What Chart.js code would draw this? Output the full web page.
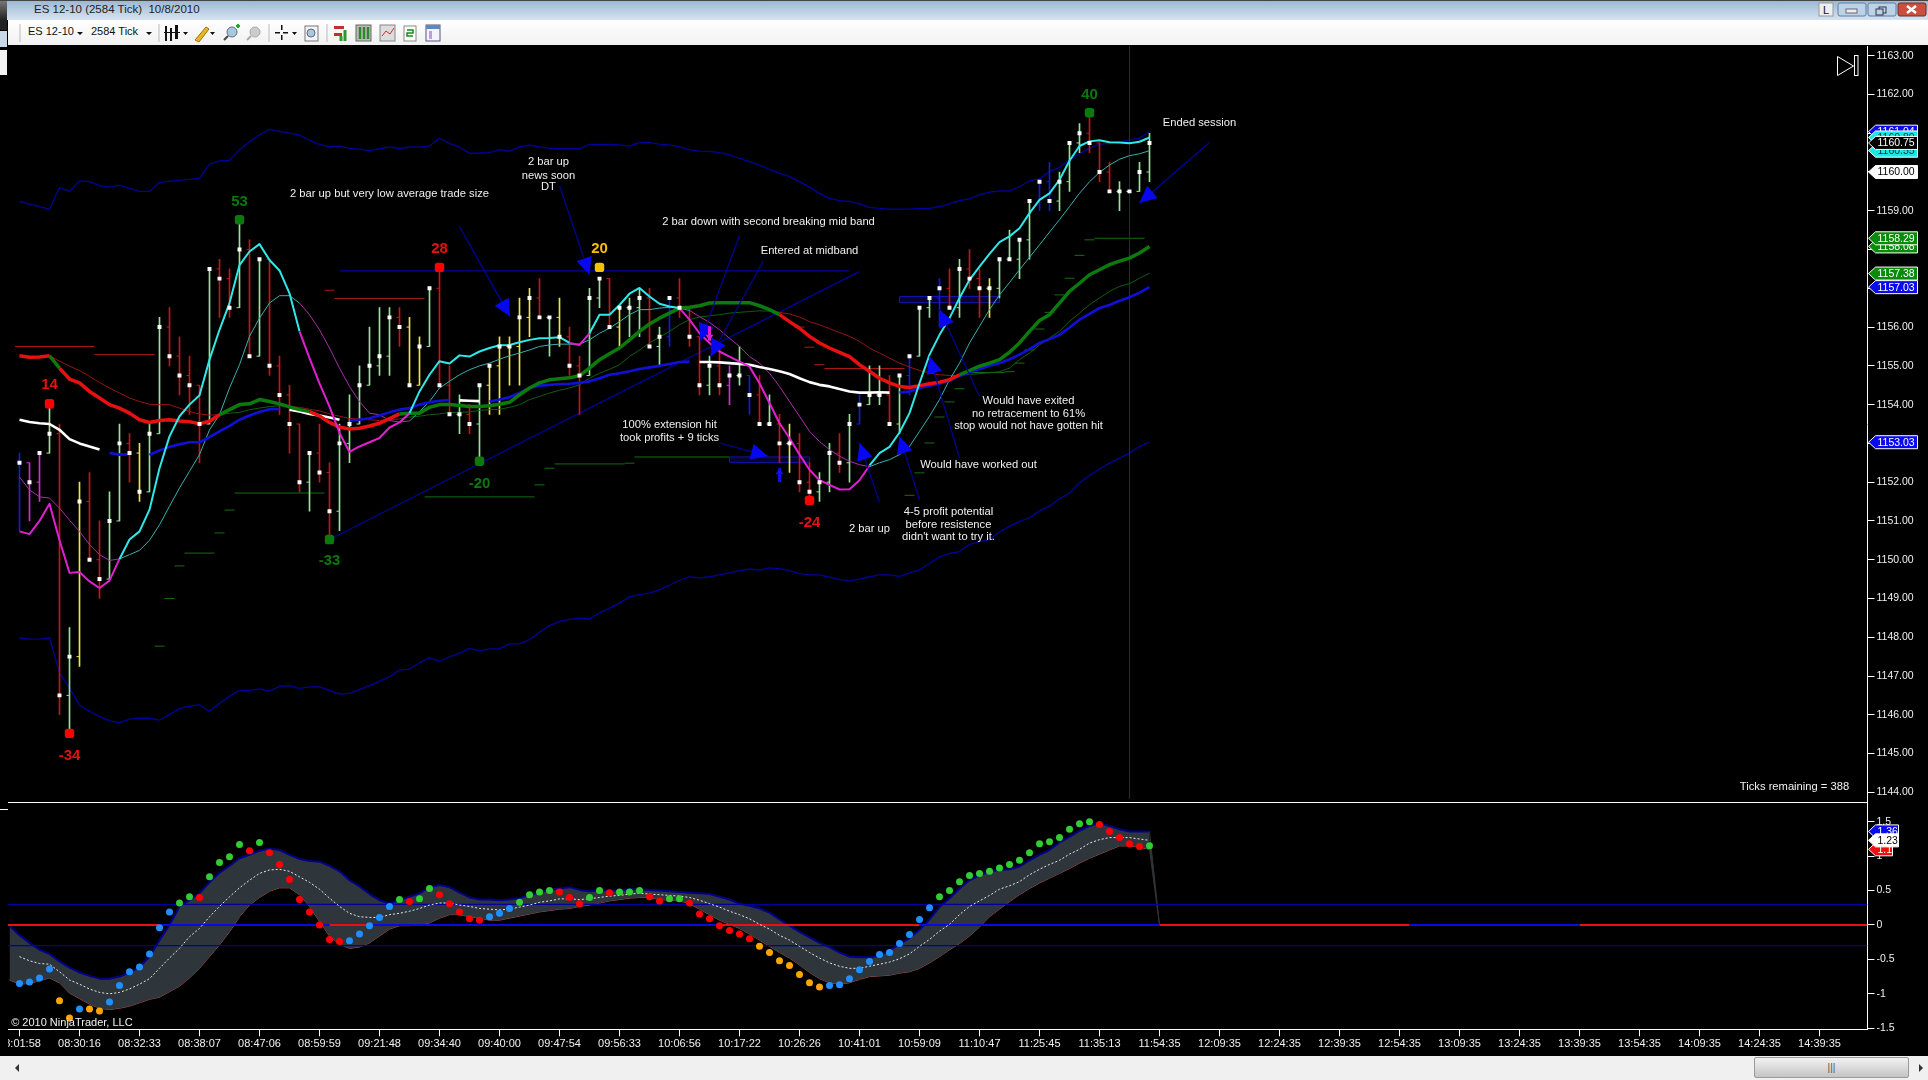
<!DOCTYPE html>
<html>
<head>
<meta charset="utf-8">
<title>ES 12-10 (2584 Tick)</title>
<script src="https://cdn.jsdelivr.net/npm/chart.js@4/dist/chart.umd.js"></script>
<style>
html, body { margin: 0; padding: 0; background: #000; overflow: hidden; }
#page { position: relative; width: 1928px; height: 1080px; overflow: hidden; font-family: "Liberation Sans", sans-serif; }
#page canvas { position: absolute; left: 8px; }
#title { position: absolute; left: 0; top: 0; width: 1928px; height: 20px; background: linear-gradient(#9db8d2, #d6e4f2); border-top: 1px solid #444; box-sizing: border-box; }
#title span { position: absolute; left: 34px; top: 2px; font-size: 11.5px; color: #222; white-space: pre; }
#tools { position: absolute; left: 8px; top: 20px; width: 1920px; height: 25px; background: linear-gradient(#ffffff, #f1f1f1); }
#tools span { position: absolute; top: 5px; font-size: 11px; color: #111; }
#icons { position: absolute; left: 0; top: 0; }
#scroll { position: absolute; left: 0; top: 1056px; width: 1928px; height: 24px; background: #f0f0f0; }
#thumb { position: absolute; left: 1754px; top: 1px; width: 155px; height: 21px; background: linear-gradient(#f2f2f2, #c4c4c4); border: 1px solid #9a9a9a; border-radius: 2px; box-sizing: border-box; text-align: center; font-size: 10px; line-height: 19px; color: #555; }
.side { position: absolute; left: 0; width: 7px; }
</style>
</head>
<body>
<div id="page">
  <div id="title"><span>ES 12-10 (2584 Tick)  10/8/2010</span></div>
  <div class="side" style="top:1px;height:19px;background:linear-gradient(#777,#222)"></div>
  <div class="side" style="top:20px;height:10px;background:#222"></div>
  <div class="side" style="top:31px;height:16px;background:#c9d9ea"></div>
  <div class="side" style="top:50px;height:25px;background:#f4f4f4"></div>
  <div class="side" style="top:809px;height:1px;background:#fff;width:8px"></div>
  <div id="tools">
    <span style="left:20px">ES 12-10</span>
    <span style="left:83px">2584 Tick</span>
  </div>
  <svg id="icons" width="1928" height="46">
    <g stroke="#bbb"><path d="M20 24V42M159 24V42M269 24V42M327 24V42"/></g>
    <g fill="#111"><path d="M77 32h6l-3 3zM146 32h6l-3 3zM183 32h5l-2.500 3zM210 32h5l-2.500 3zM292 32h5l-2.500 3z"/>
      <rect x="165" y="26" width="2" height="15"/><rect x="170" y="28" width="2" height="13"/><rect x="175" y="25" width="3" height="14"/><rect x="164" y="32" width="16" height="1"/>
      <rect x="275" y="32" width="5" height="1.500"/><rect x="283" y="32" width="5" height="1.500"/><rect x="281" y="25" width="1.500" height="5"/><rect x="281" y="35" width="1.500" height="5"/></g>
    <path d="M195 40l11-13 3 2-10 13z" fill="#e8b820" stroke="#a07010"/>
    <circle cx="232" cy="32" r="5" fill="#a8c8dc" stroke="#668"/><path d="M228 36l-4 4" stroke="#444" stroke-width="2"/><path d="M236 26h4m-2-2v4" stroke="#2a2" stroke-width="2"/>
    <circle cx="255" cy="32" r="5" fill="#ccc" stroke="#aaa"/><path d="M251 36l-4 4" stroke="#aaa" stroke-width="2"/>
    <rect x="305" y="26" width="13" height="15" fill="#f4f4f4" stroke="#777"/><circle cx="311" cy="33" r="4" fill="#a8c8dc" stroke="#668"/>
    <path d="M334 26h10v3h-10zM334 33h8v3h-8z" fill="#c03030"/><path d="M345 30v11M341 36v5" stroke="#2a9a2a" stroke-width="3"/>
    <rect x="356" y="25" width="15" height="16" fill="#bbb" stroke="#666"/><path d="M360 27v12M364 27v12M368 27v12" stroke="#2a8a2a" stroke-width="2.500"/>
    <rect x="380" y="25" width="15" height="16" fill="#ddd" stroke="#888"/><path d="M382 36l4-5 4 3 4-6" stroke="#c33" fill="none"/>
    <rect x="404" y="26" width="12" height="15" fill="#fff" stroke="#888"/><path d="M407 30h6v3h-6v3h6" stroke="#1a8a1a" fill="none" stroke-width="1.500"/>
    <rect x="426" y="25" width="14" height="16" fill="#f4f4ff" stroke="#557"/><rect x="426" y="25" width="14" height="4" fill="#5a8ac0"/><rect x="429" y="31" width="3" height="8" fill="#b8a0d8"/>
    <rect x="1819" y="3" width="14" height="13" fill="#eee" stroke="#999"/>
    <text x="1823" y="14" font-size="11" fill="#111" font-family="Liberation Sans">L</text>
    <rect x="1838" y="3" width="28" height="13" rx="2" fill="#bcd2e6" stroke="#5f7f9f"/><rect x="1846" y="9" width="11" height="4" fill="#eee" stroke="#667"/>
    <rect x="1868" y="3" width="28" height="13" rx="2" fill="#bcd2e6" stroke="#5f7f9f"/><rect x="1879" y="7" width="7" height="6" fill="none" stroke="#334"/><rect x="1876" y="9" width="7" height="6" fill="#bcd2e6" stroke="#334"/>
    <rect x="1898" y="3" width="28" height="13" rx="2" fill="#c85040" stroke="#7a2a20"/><path d="M1907 6l9 7m0-7l-9 7" stroke="#fff" stroke-width="2.500"/>
  </svg>
  <canvas id="priceChart" width="1920" height="757" style="top:46px"></canvas>
  <canvas id="oscChart" width="1920" height="253" style="top:803px"></canvas>
  <svg style="position:absolute;left:1830px;top:50px" width="34" height="30">
    <path d="M7.500 6.500V25.500L23.500 16z" fill="none" stroke="#fff"/><rect x="24.500" y="5.500" width="3.500" height="20" fill="none" stroke="#fff"/>
  </svg>
  <div id="scroll">
    <svg width="1928" height="24" style="position:absolute;left:0;top:0"><path d="M19 8v8l-4-4zM1919 8v8l4-4z" fill="#333"/></svg>
    <div id="thumb">|||</div>
  </div>
</div>
<script>
var timeLabels = ["08:01:58","08:30:16","08:32:33","08:38:07","08:47:06","08:59:59","09:21:48","09:34:40","09:40:00","09:47:54","09:56:33","10:06:56","10:17:22","10:26:26","10:41:01","10:59:09","11:10:47","11:25:45","11:35:13","11:54:35","12:09:35","12:24:35","12:39:35","12:54:35","13:09:35","13:24:35","13:39:35","13:54:35","14:09:35","14:24:35","14:39:35"];
var priceTicks = [1144,1145,1146,1147,1148,1149,1150,1151,1152,1153,1154,1155,1156,1157,1158,1159,1160,1161,1162,1163];
var oscTicks = [-1.5,-1,-0.5,0,0.5,1,1.5];

var opens = [1152.5,1152.5,1152,1152.75,1153.25,1146.5,1147.5,1151.5,1150,1149.5,
1151,1153,1152.75,1151.75,1153.25,1156,1155.25,1154.75,1154.5,1153.5,
1157.5,1157.25,1156.5,1158,1155.25,1157.75,1155,1154.25,1153.5,1152,
1152.75,1152.25,1151.25,1153,1153.5,1154.5,1155,1155.25,1156.25,1156,
1154.5,1155.5,1157,1154.5,1153.75,1153.75,1153.5,1154.5,1155,1155.5,
1155.5,1156.25,1156.75,1156.25,1156.25,1155.75,1155,1154.75,1156.75,1157.25,
1156,1156.5,1156.5,1156.75,1155.5,1155.75,1156.75,1156.5,1155.75,1154.5,
1155,1154.5,1154.75,1154.75,1154.25,1153.5,1153.5,1153,1153,1152,
1151.75,1152,1152.75,1152.5,1153.5,1154,1154.25,1154.25,1153.5,1154.75,
1155.25,1156.5,1156.75,1157,1156.5,1157.5,1157.25,1157,1157,1157.75,
1157.75,1158.25,1159.25,1159.75,1159.25,1159.75,1160.75,1161,1160.75,1160,
1159.5,1159.5,1159.5,1160];
var highs = [1152.75,1152.5,1152.75,1154,1153.5,1148.25,1152,1152.25,1151,1151.75,
1153.5,1153.25,1153,1153.5,1156.25,1156.5,1155.75,1155.25,1154.5,1157.5,
1157.75,1157.5,1158.75,1158.25,1157.75,1157.75,1155.25,1154.5,1153.5,1152.75,
1153.5,1152.5,1153.5,1154.25,1155,1156,1156.5,1156.5,1156.5,1156.25,
1155.75,1157,1157.5,1155,1154.25,1154,1154.5,1155,1155.75,1155.75,
1156.75,1157,1157.25,1156.25,1156.75,1156,1155.25,1157,1157.25,1157.25,
1156.5,1156.75,1157,1157,1156,1156.75,1157.25,1156.5,1155.75,1155.25,
1155.5,1155,1155.5,1154.75,1154.75,1154.25,1153.75,1153.5,1153.25,1152.5,
1152.25,1153,1153.25,1153.75,1154.25,1155,1155,1154.75,1154.75,1155.25,
1156.5,1156.75,1157.25,1157.5,1157.75,1158,1157.5,1157.25,1157.75,1158.5,
1158.25,1159.25,1159.75,1160.25,1160,1160.75,1161.25,1161.5,1160.75,1160.25,
1159.75,1159.5,1160.25,1161];
var lows = [1150.75,1151,1151.5,1152.75,1146,1145.5,1147.25,1150,1149,1149.5,
1151,1152,1151.5,1151.75,1153.25,1155,1154.25,1153.75,1152.5,1153.5,
1156.25,1156.25,1156.5,1155.25,1155.25,1154.75,1153.75,1152.75,1151.75,1151.25,
1152,1150.5,1150.75,1152.5,1153.5,1154.5,1154.75,1154.75,1155.5,1154.5,
1154.5,1155.5,1154.5,1153.75,1153.25,1153.25,1152.5,1153.75,1153.75,1154.5,
1154.5,1155.75,1156.25,1155.25,1155.5,1154.75,1153.75,1154.75,1156.5,1156,
1155.5,1155.75,1155.75,1155.5,1155,1155.5,1156.25,1155.5,1154.25,1154.25,
1154.25,1154,1154.5,1153.75,1153.5,1153.5,1152.5,1152.25,1151.75,1151.5,
1151.5,1151.75,1152.25,1152,1153.5,1154,1154,1153.5,1153.25,1154.25,
1155.25,1156.25,1156,1156.5,1156.25,1157,1156.25,1156.25,1156.75,1157.75,
1157.25,1157.75,1159,1159,1159,1159.5,1160.5,1160.5,1159.75,1159.5,
1159,1159.5,1159.5,1159.75];
var closes = [1152.5,1152,1152.75,1153.25,1146.5,1147.5,1151.5,1150,1149.5,1151,
1153,1152.75,1151.75,1153.25,1156,1155.25,1154.75,1154.5,1153.5,1157.5,
1157.25,1156.5,1158,1155.25,1157.75,1155,1154.25,1153.5,1152,1152.75,
1152.25,1151.25,1153,1153.5,1154.5,1155,1155.25,1156.25,1156,1154.5,
1155.5,1157,1154.5,1153.75,1153.75,1153.5,1154.5,1155,1155.5,1155.5,
1156.25,1156.75,1156.25,1156.25,1155.75,1155,1154.75,1156.75,1157.25,1156,
1156.5,1156.5,1156.75,1155.5,1155.75,1156.75,1156.5,1155.75,1154.5,1155,
1154.5,1154.75,1154.75,1154.25,1153.5,1153.5,1153,1153,1152,1151.75,
1152,1152.75,1152.5,1153.5,1154,1154.25,1154.25,1153.5,1154.75,1155.25,
1156.5,1156.75,1157,1156.5,1157.5,1157.25,1157,1157,1157.75,1157.75,
1158.25,1159.25,1159.75,1159.25,1159.75,1160.75,1161,1160.75,1160,1159.5,
1159.5,1159.5,1160,1160.75];
var barKinds = "bmmgrgyrrg" + "gryggrrrrg" + "rrgrgrrrrg" + "rrggggggry" + "ygrrgrgyyy" +
    "yyrgyrrggr" + "yggrgbrrrg" + "rmgbrgryrr" + "ggrgbggrgb" + "ggbrgrrygg" + "ggbbgggrrr" + "gwgg";

var fastLine = [1150.73,1150.66,1151,1151.44,1150.5,1149.66,1149.68,1149.44,1149.27,1149.46,
1150.02,1150.52,1150.73,1151.29,1152.36,1153.18,1153.7,1154,1154.24,1155.16,
1155.93,1156.62,1157.6,1157.95,1158.14,1157.73,1157.46,1156.87,1155.89,1155.2,
1154.55,1153.95,1153.27,1152.78,1152.92,1153.03,1153.14,1153.41,1153.54,1153.78,
1154.34,1154.77,1155.12,1155.06,1155.27,1155.24,1155.37,1155.46,1155.53,1155.54,
1155.61,1155.67,1155.71,1155.72,1155.74,1155.59,1155.54,1155.84,1156.32,1156.32,
1156.57,1156.86,1157.01,1156.79,1156.6,1156.53,1156.49,1156.19,1155.84,1155.59,
1155.37,1155.24,1155.11,1154.98,1154.55,1154.04,1153.52,1153.14,1152.71,1152.32,
1152.05,1151.93,1151.81,1151.82,1152.05,1152.43,1152.75,1152.91,1153.28,1153.78,
1154.55,1155.29,1155.8,1156.23,1156.75,1157.22,1157.56,1157.89,1158.19,1158.34,
1158.55,1158.94,1159.28,1159.45,1159.8,1160.29,1160.67,1160.79,1160.82,1160.77,
1160.76,1160.74,1160.78,1160.89];
var slowLine = [1152.13,1151.8,1151.62,1151.59,1151.33,1151.02,1150.73,1150.39,1150.13,1149.98,
1150.02,1150.13,1150.24,1150.5,1150.9,1151.38,1151.85,1152.28,1152.71,1153.35,
1153.74,1154.43,1155.03,1155.76,1156.23,1156.62,1156.81,1156.81,1156.62,1156.32,
1155.93,1155.46,1154.94,1154.47,1154.08,1153.78,1153.74,1153.59,1153.55,1153.58,
1153.82,1154.08,1154.43,1154.6,1154.77,1154.9,1155,1155.07,1155.17,1155.26,
1155.33,1155.41,1155.5,1155.54,1155.56,1155.56,1155.56,1155.67,1155.84,1155.97,
1156.14,1156.32,1156.45,1156.45,1156.49,1156.51,1156.49,1156.43,1156.27,1156.12,
1155.93,1155.71,1155.5,1155.24,1155.07,1154.81,1154.47,1154.08,1153.7,1153.31,
1153.05,1152.84,1152.67,1152.54,1152.45,1152.4,1152.5,1152.58,1152.71,1152.92,
1153.31,1153.7,1154.13,1154.64,1155.07,1155.59,1156.02,1156.45,1156.83,1157.15,
1157.48,1157.8,1158.12,1158.45,1158.77,1159.11,1159.45,1159.75,1159.99,1160.18,
1160.33,1160.42,1160.47,1160.55];
var upperBand = [1159.24,1159.17,1159.11,1159.04,1159.6,1159.5,1159.77,1159.75,1159.65,1159.61,
1159.66,1159.58,1159.5,1159.5,1159.73,1159.76,1159.79,1159.81,1159.84,1160.2,
1160.29,1160.3,1160.57,1160.78,1160.96,1161.1,1161.05,1161,1160.95,1160.82,
1160.71,1160.65,1160.67,1160.61,1160.59,1160.55,1160.6,1160.65,1160.6,1160.65,
1160.64,1160.67,1160.87,1160.74,1160.64,1160.48,1160.49,1160.5,1160.58,1160.53,
1160.65,1160.69,1160.65,1160.61,1160.6,1160.6,1160.6,1160.71,1160.71,1160.71,
1160.7,1160.67,1160.76,1160.76,1160.72,1160.7,1160.65,1160.57,1160.54,1160.53,
1160.5,1160.44,1160.35,1160.27,1160.18,1160.07,1159.97,1159.88,1159.75,1159.61,
1159.45,1159.32,1159.26,1159.24,1159.18,1159.09,1159.06,1159.04,1159.04,1159.04,
1159.06,1159.06,1159.11,1159.18,1159.26,1159.31,1159.41,1159.48,1159.51,1159.51,
1159.62,1159.77,1159.82,1160.01,1160.12,1160.31,1160.47,1160.61,1160.72,1160.74,
1160.77,1160.83,1160.87,1161.04];
var lowerBand = [1147.98,1147.95,1147.95,1147.98,1147.08,1146.69,1146.25,1146.09,1145.95,1145.85,
1145.79,1145.89,1145.91,1145.91,1145.86,1146.01,1146.16,1146.22,1146.26,1146.09,
1146.29,1146.48,1146.63,1146.63,1146.67,1146.61,1146.73,1146.75,1146.68,1146.72,
1146.72,1146.63,1146.53,1146.55,1146.65,1146.75,1146.86,1146.98,1147.15,1147.18,
1147.34,1147.47,1147.38,1147.49,1147.59,1147.71,1147.65,1147.7,1147.7,1147.83,
1147.83,1147.94,1148.13,1148.3,1148.41,1148.46,1148.49,1148.47,1148.63,1148.75,
1148.88,1149.04,1149.1,1149.14,1149.23,1149.34,1149.47,1149.56,1149.53,1149.56,
1149.61,1149.66,1149.72,1149.76,1149.73,1149.79,1149.77,1149.72,1149.64,1149.61,
1149.61,1149.55,1149.49,1149.45,1149.5,1149.56,1149.61,1149.61,1149.57,1149.66,
1149.74,1149.9,1150.07,1150.16,1150.21,1150.39,1150.47,1150.52,1150.72,1150.86,
1150.99,1151.08,1151.26,1151.38,1151.57,1151.72,1151.98,1152.17,1152.34,1152.49,
1152.62,1152.75,1152.92,1153.03];
var midThick = [1155.26,1155.22,1155.23,1155.26,1154.94,1154.66,1154.56,1154.34,1154.17,1154,
1153.91,1153.78,1153.61,1153.54,1153.59,1153.61,1153.58,1153.56,1153.51,1153.57,
1153.74,1153.87,1154,1154.02,1154.13,1154.08,1154.02,1153.94,1153.87,1153.82,
1153.71,1153.54,1153.42,1153.37,1153.39,1153.45,1153.52,1153.64,1153.76,1153.78,
1153.78,1153.93,1154,1154,1153.98,1153.95,1153.95,1153.97,1154.01,1154.06,
1154.25,1154.43,1154.56,1154.64,1154.67,1154.69,1154.75,1154.94,1155.16,1155.31,
1155.46,1155.67,1155.89,1156.08,1156.23,1156.36,1156.49,1156.51,1156.55,1156.62,
1156.63,1156.63,1156.63,1156.63,1156.55,1156.45,1156.32,1156.14,1155.97,1155.76,
1155.59,1155.46,1155.35,1155.24,1155.03,1154.86,1154.68,1154.56,1154.47,1154.44,
1154.49,1154.54,1154.58,1154.64,1154.77,1154.88,1154.99,1155.07,1155.16,1155.35,
1155.59,1155.89,1156.17,1156.32,1156.62,1156.92,1157.13,1157.35,1157.48,1157.61,
1157.7,1157.78,1157.91,1158.08];
var midThin = [null,null,null,1155.26,1155.12,1154.99,1154.88,1154.73,1154.57,1154.43,
1154.3,1154.17,1154.08,1154.01,1154,1154,1153.91,1153.82,1153.76,1153.73,
1153.74,1153.78,1153.8,1153.87,1153.91,1153.95,1153.97,1153.95,1153.93,1153.88,
1153.84,1153.76,1153.7,1153.64,1153.63,1153.61,1153.59,1153.61,1153.63,1153.68,
1153.7,1153.74,1153.76,1153.8,1153.8,1153.81,1153.85,1153.87,1153.88,1153.93,
1154,1154.13,1154.21,1154.3,1154.37,1154.43,1154.51,1154.68,1154.81,1154.91,
1155.03,1155.24,1155.41,1155.59,1155.74,1155.89,1156.06,1156.19,1156.26,1156.29,
1156.32,1156.36,1156.38,1156.4,1156.42,1156.41,1156.38,1156.34,1156.26,1156.14,
1156.06,1155.96,1155.86,1155.76,1155.63,1155.46,1155.33,1155.2,1155.07,1154.97,
1154.88,1154.81,1154.77,1154.75,1154.75,1154.78,1154.8,1154.82,1154.85,1154.94,
1155.16,1155.33,1155.54,1155.72,1155.89,1156.15,1156.36,1156.58,1156.75,1156.92,
1157.05,1157.12,1157.26,1157.39];
var blueLine = [1153.61,1153.55,1153.52,1153.5,1153.35,1153.11,1153,1152.92,1152.84,1152.75,
1152.71,1152.72,null,1152.7,1152.82,1152.91,1152.98,1153.03,1153.03,1153.16,
1153.31,1153.45,1153.61,1153.72,1153.81,1153.88,1153.89,1153.87,1153.82,1153.76,
1153.72,1153.67,1153.61,1153.59,1153.61,1153.65,1153.72,1153.8,1153.87,1153.91,
1154,1154.06,1154.1,1154.12,1154.11,1154.1,1154.09,1154.08,1154.13,1154.19,
1154.3,1154.43,1154.49,1154.51,1154.53,1154.54,1154.56,1154.6,1154.68,1154.77,
1154.81,1154.86,1154.92,1154.96,1155,1155.05,1155.1,1155.11,1155.1,1155.1,
1155.09,1155.07,1155.05,1155.03,1154.97,1154.92,1154.86,1154.79,1154.68,1154.58,
1154.51,1154.47,1154.4,1154.34,1154.31,1154.31,1154.32,1154.31,1154.31,1154.34,
1154.43,1154.49,1154.54,1154.62,1154.74,1154.84,1154.92,1155,1155.07,1155.17,
1155.29,1155.43,1155.59,1155.69,1155.8,1155.99,1156.19,1156.34,1156.49,1156.57,
1156.68,1156.77,1156.89,1157.03];

// bar ranges where a line changes colour
var fastDownRuns = [[0,10],[28,39],[55,57],[66,85]];
var slowDownRuns = [[0,10],[28,39],[67,85]];
var thickRedRuns = [[0,3],[4,20],[29,38],[76,94]];
var thinRedRuns = [[3,20],[27,38],[76,94]];
var whiteRuns = [[0,9],[27,33],[44,47],[68,88]];

// from bar, to bar, price
var redSteps = [[-0.45,7.5,1155.5],[7.5,13.5,1155.29],[30.5,31.5,1156.95],[31.5,40.5,1156.74],[77.5,78.5,1156],[78.5,79.5,1155.48],[79.5,80.5,1155.03],[80.5,88.5,1154.93]];
var greenSteps = [[13.5,14.5,1147.77],[14.5,15.5,1149],[15.5,16.5,1149.84],[16.5,19.5,1150.17],[19.5,20.5,1150.69],[20.5,21.5,1151.28],[21.5,30.5,1151.72],
[40.5,51.5,1151.62],[51.5,52.5,1151.93],[52.5,53.5,1152.36],[53.5,60.5,1152.47],[60.5,61.5,1152.49],[61.5,71,1152.65],
[88.5,89.5,1151.66],[89.5,90.5,1152.24],[90.5,91.5,1153.01],[91.5,92.5,1153.68],[92.5,93.5,1154.07],[93.5,94.5,1154.41],[94.5,98.5,1154.83],[98.5,99.5,1154.85],
[99.5,100.5,1155.07],[100.5,101.5,1155.41],[101.5,102.5,1155.95],[102.5,103.5,1156.38],[103.5,104.5,1156.83],[104.5,105.5,1157.26],[105.5,106.5,1157.85],[106.5,107.5,1158.25],[107.5,112.5,1158.29]];

// swing points
var swingBars = [5,3,22,42,58,46,31,79,107];
var swingPrices = [1145.52,1154.02,1158.77,1157.54,1157.54,1152.54,1150.52,1151.53,1161.53];
var swingLabelPrices = [1144.94,1154.5,1159.24,1158.01,1158.01,1151.96,1149.96,1150.96,1161.99];
var swingTexts = ["-34","14","53","28","20","-20","-33","-24","40"];
var swingKinds = ["r","r","g","r","y","g","g","r","g"];

// drawing tools on the chart, bar/price pairs
var guideLines = [[32,1157.45,83,1157.45],[31,1150.52,84,1157.43]];
var boxes = [[88,1156.79,98,1156.63],[71,1152.65,79,1152.51]];
var arrows = [[44,1158.59,49.06,1156.27],[54,1159.65,57,1157.35],[72,1158.36,68.1,1155.65],[74.4,1157.71,69.1,1155.24],[70,1153.01,74.85,1152.67],
[86,1151.48,84,1153.01],[90,1151.55,88,1153.18],[94,1152.62,91,1155.24],[96,1154.21,92,1156.45],[119,1160.76,112,1159.2]];
var entryUp = [76,1152,76,1152.36];
var entryDown = [69,1156.02,69,1155.65];

var noteBars = [37,52.9,52.9,52.9,74.9,79,65,65,100.9,100.9,100.9,95.9,85,92.9,92.9,92.9,118,177.5];
var notePrices = [1159.43,1160.26,1159.91,1159.62,1158.71,1157.97,1153.47,1153.14,1154.1,1153.76,1153.45,1152.45,1150.79,1151.23,1150.9,1150.58,1161.26,1144.15];
var noteTexts = ["2 bar up but very low average trade size","2 bar up","news soon","DT","2 bar down with second breaking mid band","Entered at midband",
"100% extension hit","took profits + 9 ticks","Would have exited","no retracement to 61%","stop would not have gotten hit","Would have worked out","2 bar up",
"4-5 profit potential","before resistence","didn't want to try it.","Ended session","Ticks remaining = 388"];

var priceTagValues = [1161.04,1160.89,1160.55,1160.75,1160.00,1158.08,1158.29,1157.38,1157.03,1153.03];
var priceTagKinds = ["b","c","c","k","w","g","g","g","b","b"];
var oscTagValues = [1.36,1.1,1.23];
var oscTagKinds = ["b","r","w"];

// oscillator, first value sits one bar before the first price bar, last one bar after the last
var oscUpper = [-0.01,-0.15,-0.26,-0.36,-0.42,-0.53,-0.62,-0.69,-0.74,-0.78,-0.78,
-0.75,-0.69,-0.61,-0.46,-0.22,0,0.27,0.36,0.46,0.62,
0.76,0.86,0.97,1.02,1.08,1.11,1.09,1.02,0.96,0.93,
0.92,0.86,0.78,0.65,0.56,0.45,0.36,0.31,0.36,0.41,
0.46,0.55,0.58,0.55,0.47,0.40,0.37,0.37,0.36,0.37,
0.39,0.44,0.47,0.51,0.53,0.55,0.51,0.49,0.50,0.50,
0.50,0.52,0.52,0.51,0.50,0.49,0.48,0.47,0.46,0.45,
0.41,0.37,0.31,0.28,0.24,0.18,0.08,-0.01,-0.10,-0.18,
-0.26,-0.32,-0.40,-0.46,-0.47,-0.47,-0.45,-0.37,-0.28,-0.19,
-0.07,0.08,0.26,0.39,0.53,0.65,0.72,0.78,0.80,0.81,
0.85,0.94,1.02,1.09,1.20,1.28,1.37,1.44,1.48,1.44,
1.39,1.36,1.36,1.36,0];
var oscLower = [-0.80,-0.86,-0.85,-0.81,-0.77,-0.84,-0.99,-1.07,-1.15,-1.21,-1.23,
-1.21,-1.18,-1.13,-1.08,-1.05,-0.97,-0.89,-0.77,-0.63,-0.46,
-0.29,-0.10,0.12,0.29,0.40,0.49,0.54,0.54,0.44,0.27,
0.05,-0.16,-0.28,-0.34,-0.32,-0.26,-0.16,-0.06,-0.01,-0.01,
0,0.03,0.10,0.15,0.15,0.12,0.10,0.07,0.07,0.10,
0.13,0.16,0.19,0.21,0.23,0.24,0.27,0.29,0.32,0.35,
0.37,0.39,0.40,0.40,0.37,0.36,0.35,0.31,0.23,0.15,
0.07,0.01,-0.05,-0.13,-0.22,-0.31,-0.40,-0.48,-0.58,-0.69,
-0.78,-0.84,-0.86,-0.84,-0.79,-0.75,-0.74,-0.73,-0.70,-0.68,
-0.63,-0.55,-0.46,-0.36,-0.27,-0.16,-0.03,0.12,0.23,0.34,
0.44,0.53,0.61,0.68,0.75,0.82,0.90,0.97,1.03,1.09,
1.15,1.15,1.13,1.10,0];
var oscMid = [-0.46,-0.52,-0.56,-0.57,-0.68,-0.80,-0.86,-0.93,-0.98,-1.00,
-0.98,-0.93,-0.86,-0.78,-0.63,-0.48,-0.34,-0.17,-0.05,0.12,
0.27,0.41,0.54,0.65,0.75,0.80,0.81,0.78,0.70,0.62,
0.52,0.39,0.27,0.17,0.12,0.11,0.11,0.15,0.17,0.20,
0.24,0.29,0.32,0.32,0.29,0.27,0.24,0.23,0.22,0.23,
0.26,0.29,0.33,0.35,0.38,0.38,0.37,0.38,0.40,0.42,
0.43,0.45,0.46,0.45,0.44,0.43,0.42,0.40,0.36,0.31,
0.26,0.20,0.15,0.09,0.01,-0.06,-0.15,-0.22,-0.31,-0.40,
-0.48,-0.55,-0.60,-0.63,-0.63,-0.60,-0.57,-0.54,-0.49,-0.42,
-0.31,-0.21,-0.09,0.01,0.15,0.27,0.35,0.43,0.52,0.57,
0.63,0.73,0.81,0.88,0.94,1.03,1.10,1.19,1.24,1.27,
1.27,1.27,1.25,1.23];
var oscDots = [-0.85,-0.83,-0.77,-0.64,-1.10,-1.35,-1.22,-1.22,-1.25,-1.12,
-0.88,-0.68,-0.61,-0.42,-0.04,0.19,0.32,0.41,0.40,0.70,
0.91,0.99,1.17,1.08,1.20,1.05,0.88,0.66,0.37,0.19,
0,-0.21,-0.24,-0.23,-0.13,-0.01,0.11,0.27,0.37,0.34,
0.38,0.53,0.44,0.31,0.19,0.09,0.07,0.12,0.17,0.24,
0.33,0.44,0.48,0.50,0.48,0.40,0.31,0.40,0.50,0.47,
0.48,0.48,0.50,0.41,0.35,0.38,0.38,0.32,0.16,0.09,
-0.01,-0.08,-0.13,-0.20,-0.31,-0.40,-0.52,-0.59,-0.72,-0.84,
-0.90,-0.88,-0.87,-0.78,-0.65,-0.53,-0.43,-0.40,-0.27,-0.14,
0.08,0.25,0.41,0.50,0.63,0.72,0.75,0.78,0.83,0.88,
0.94,1.05,1.18,1.21,1.27,1.39,1.47,1.50,1.46,1.36,
1.27,1.18,1.14,1.15];
var oscDotKinds = "bbbbooboob" + "bbbbbbggrg" + "gggrgrrrrr" + "rrrbbbbbgr" + "ggrrrrrbbb" +
    "ggggrrrggr" + "gggrrggrrr" + "rrrroooooo" + "obbbbbbbbb" + "bbgggggggg" + "ggggggggrr" + "rrrg";
var zeroRuns = [[-1.15,14,"r"],[14,31,"b"],[31,35,"r"],[35,70,"b"],[70,90,"r"],[90,114,"b"],[114,139,"r"],[139,156,"b"],[156,184.8,"r"]];
var oscLevels = [0.3,-0.3];

var firstBar = -1.15, lastBar = 184.8;
var barColors = {g:"#9be09b", r:"#c81414", y:"#e8e84a", b:"#1a1ad2", m:"#d030d0", w:"#ffffff"};
var swingColors = {r:"#e81010", g:"#0a7a0a", y:"#f5c000"};
var tagStyles = {b:["#0a0aee","#fff"], c:["#18e8e8","#033"], k:["#000","#fff"], w:["#fff","#000"], g:["#0a8a0a","#fff"], r:["#ee1010","#fff"]};
var dotColors = {b:"#1e90ff", o:"#ffa500", g:"#32cd32", r:"#ff0000"};
var NAVY = "#00009c", FONT = '"Liberation Sans", sans-serif';

function points(values, start) {
    return values.map(function(v, n) { return {x: n + (start || 0), y: v}; });
}
function inRuns(runs, i) {
    return runs.some(function(r) { return i >= r[0] && i < r[1]; });
}
function stepPoints(steps) {
    var out = [];
    steps.forEach(function(s) {
        out.push({x: s[0], y: s[2]}, {x: s[1], y: s[2]}, {x: s[1], y: null});
    });
    return out;
}
function lineSet(data, color, width, order, extra) {
    return Object.assign({type: 'line', data: data, borderColor: color, borderWidth: width, pointRadius: 0,
        tension: 0, order: order, fill: false, borderJoinStyle: 'round'}, extra || {});
}
function runColor(runs, on, off) {
    return {borderColor: function(ctx) { return inRuns(runs, ctx.p0DataIndex) ? on : off; }};
}
function tagShape(ctx, x, y, w, kind, text) {
    var st = tagStyles[kind];
    ctx.beginPath();
    ctx.moveTo(x, y);
    ctx.lineTo(x + 7, y - 6.5);
    ctx.lineTo(x + w, y - 6.5);
    ctx.lineTo(x + w, y + 6.5);
    ctx.lineTo(x + 7, y + 6.5);
    ctx.closePath();
    ctx.fillStyle = st[0];
    ctx.fill();
    ctx.strokeStyle = '#fff';
    ctx.lineWidth = 1;
    ctx.stroke();
    ctx.fillStyle = st[1];
    ctx.font = '10.5px ' + FONT;
    ctx.textAlign = 'left';
    ctx.textBaseline = 'middle';
    ctx.fillText(text, x + 9, y + 0.5);
}
function drawArrow(ctx, xs, ys, a, shaftColor, shaftWidth, headLen, headHalf) {
    var x0 = xs.getPixelForValue(a[0]), y0 = ys.getPixelForValue(a[1]);
    var x1 = xs.getPixelForValue(a[2]), y1 = ys.getPixelForValue(a[3]);
    var ang = Math.atan2(y1 - y0, x1 - x0);
    ctx.strokeStyle = shaftColor;
    ctx.lineWidth = shaftWidth;
    ctx.beginPath();
    ctx.moveTo(x0, y0);
    ctx.lineTo(x1, y1);
    ctx.stroke();
    ctx.fillStyle = '#0808f0';
    if (shaftWidth > 2) ctx.fillStyle = shaftColor;
    ctx.beginPath();
    ctx.moveTo(x1, y1);
    ctx.lineTo(x1 - headLen * Math.cos(ang) - headHalf * Math.sin(ang), y1 - headLen * Math.sin(ang) + headHalf * Math.cos(ang));
    ctx.lineTo(x1 - headLen * Math.cos(ang) + headHalf * Math.sin(ang), y1 - headLen * Math.sin(ang) - headHalf * Math.cos(ang));
    ctx.closePath();
    ctx.fill();
}

var priceOverlay = {
    id: 'priceOverlay',
    afterDraw: function(chart) {
        var ctx = chart.ctx, xs = chart.scales.x, ys = chart.scales.y;
        ctx.save();
        arrows.forEach(function(a) { drawArrow(ctx, xs, ys, a, NAVY, 1.2, 17, 8); });
        drawArrow(ctx, xs, ys, entryUp, '#1010ee', 3, 6, 4);
        drawArrow(ctx, xs, ys, entryDown, '#e020d0', 3, 6, 4);
        ctx.textAlign = 'center';
        ctx.textBaseline = 'middle';
        ctx.font = '11.2px ' + FONT;
        ctx.fillStyle = '#f0f0f0';
        noteTexts.forEach(function(t, n) {
            ctx.fillText(t, xs.getPixelForValue(noteBars[n]), ys.getPixelForValue(notePrices[n]));
        });
        ctx.font = 'bold 15px ' + FONT;
        swingTexts.forEach(function(t, n) {
            ctx.fillStyle = swingColors[swingKinds[n]];
            ctx.fillText(t, xs.getPixelForValue(swingBars[n]), ys.getPixelForValue(swingLabelPrices[n]));
        });
        priceTagValues.forEach(function(v, n) {
            tagShape(ctx, chart.chartArea.right + 1, ys.getPixelForValue(v), 49, priceTagKinds[n], v.toFixed(2));
        });
        ctx.restore();
    }
};
var oscOverlay = {
    id: 'oscOverlay',
    afterDraw: function(chart) {
        var ctx = chart.ctx, xs = chart.scales.x, ys = chart.scales.y;
        ctx.save();
        ctx.font = '11px ' + FONT;
        ctx.fillStyle = '#f0f0f0';
        ctx.textAlign = 'center';
        ctx.textBaseline = 'middle';
        ctx.fillText('\u00a9 2010 NinjaTrader, LLC', xs.getPixelForValue(5.24), ys.getPixelForValue(-1.42));
        oscTagValues.forEach(function(v, n) {
            tagShape(ctx, chart.chartArea.right + 1, ys.getPixelForValue(v), n == 1 ? 24 : 30, oscTagKinds[n], String(v));
        });
        ctx.restore();
    }
};

function xScale(showLabels, height) {
    return {
        type: 'linear', min: firstBar, max: lastBar, offset: false,
        afterBuildTicks: function(scale) {
            scale.ticks = timeLabels.map(function(t, n) { return {value: n * 6}; });
        },
        afterFit: function(scale) {
            scale.paddingLeft = 0;
            scale.paddingRight = 0;
            scale.height = height;
        },
        border: {display: true, color: '#fff', width: 1},
        grid: {display: showLabels, drawOnChartArea: false, offset: false, tickLength: 7, tickColor: '#fff', color: '#fff'},
        ticks: {
            display: showLabels, autoSkip: false, maxRotation: 0, minRotation: 0, padding: 1,
            color: '#f0f0f0', font: {family: FONT, size: 11},
            callback: function(v) { return timeLabels[v / 6]; }
        }
    };
}
function yScale(min, max, tickValues, format) {
    return {
        type: 'linear', position: 'right', min: min, max: max,
        afterBuildTicks: function(scale) {
            scale.ticks = tickValues.map(function(v) { return {value: v}; });
        },
        afterFit: function(scale) {
            scale.paddingTop = 0;
            scale.paddingBottom = 0;
            scale.width = 60.5;
        },
        border: {display: true, color: '#fff', width: 1},
        grid: {drawOnChartArea: false, tickLength: 7, tickColor: '#fff', color: '#fff'},
        ticks: {
            autoSkip: false, padding: 2, color: '#f0f0f0', font: {family: FONT, size: 10.5},
            callback: format
        }
    };
}
var baseOptions = {
    responsive: false, animation: false, events: [],
    layout: {autoPadding: false, padding: 0},
    plugins: {legend: {display: false}, tooltip: {enabled: false}}
};

var barData = highs.map(function(h, i) { return {x: i, y: [lows[i], h]}; });
var barFill = barKinds.split('').map(function(k) { return barColors[k]; });

var priceSets = [
    {type: 'bar', data: barData, backgroundColor: barFill, barThickness: 1, borderWidth: 0, order: 8},
    lineSet(points(opens), 'rgba(0,0,0,0)', 0, 7, {showLine: false, pointStyle: 'dash', pointRotation: 180, pointRadius: 3,
        pointBorderColor: barFill, pointBorderWidth: 1}),
    lineSet(points(upperBand), NAVY, 1.3, 12),
    lineSet(points(lowerBand), NAVY, 1.3, 12),
    lineSet(stepPoints(redSteps), '#b01818', 1, 11),
    lineSet(stepPoints(greenSteps), '#136e13', 1, 11),
    lineSet([{x: 111, y: 1163.25}, {x: 111, y: 1143.83}], '#1a1ab4', 1, 10)
];
guideLines.forEach(function(g) {
    priceSets.push(lineSet([{x: g[0], y: g[1]}, {x: g[2], y: g[3]}], NAVY, 1.2, 10));
});
boxes.forEach(function(b) {
    priceSets.push(lineSet([{x: b[0], y: b[1]}, {x: b[2], y: b[1]}, {x: b[2], y: b[3]}, {x: b[0], y: b[3]}, {x: b[0], y: b[1]}],
        '#1414b0', 1, 9, {fill: 'shape', backgroundColor: 'rgba(16,16,150,0.3)'}));
});
priceSets.push(
    lineSet(points(slowLine), '#38b0b0', 1, 6, {segment: runColor(slowDownRuns, '#a830a8', '#38b0b0')}),
    lineSet(points(midThin), '#105e10', 1, 6, {segment: runColor(thinRedRuns, '#981414', '#105e10')}),
    lineSet(points(blueLine), '#1010d8', 2.6, 5, {segment: {borderColor: function(ctx) {
        var a = inRuns(whiteRuns, ctx.p0DataIndex), b = inRuns(whiteRuns, ctx.p1DataIndex);
        if (a != b) return 'rgba(0,0,0,0)';
        return a ? '#ffffff' : '#1010d8';
    }}}),
    lineSet(points(midThick), '#0c7a0c', 3.5, 4, {segment: runColor(thickRedRuns, '#e81010', '#0c7a0c')}),
    lineSet(points(fastLine), '#30e8e8', 2, 3, {segment: runColor(fastDownRuns, '#e020d0', '#30e8e8')}),
    lineSet(swingBars.map(function(b, n) { return {x: b, y: swingPrices[n]}; }), 'rgba(0,0,0,0)', 0, 2, {
        showLine: false, pointStyle: 'rectRounded', pointRadius: 5.5,
        pointBackgroundColor: swingKinds.map(function(k) { return swingColors[k] == '#e81010' ? '#ff0000' : swingColors[k]; }),
        pointBorderWidth: 0}),
    lineSet(points(closes), 'rgba(0,0,0,0)', 0, 1, {showLine: false, pointStyle: 'rect', pointRadius: 2.8,
        pointBackgroundColor: '#ffffff', pointBorderWidth: 0})
);

new Chart(document.getElementById('priceChart'), {
    type: 'bar',
    data: {datasets: priceSets},
    options: Object.assign({}, baseOptions, {
        scales: {
            x: xScale(false, 1),
            y: yScale(1143.75, 1163.25, priceTicks, function(v) { return v.toFixed(2); })
        }
    }),
    plugins: [priceOverlay]
});

var bandTail = oscUpper.length - 2;
function tailSegment(color) {
    return {
        borderColor: function(ctx) { return ctx.p0DataIndex >= bandTail ? '#333' : color; },
        borderWidth: function(ctx) { return ctx.p0DataIndex >= bandTail ? 1 : undefined; }
    };
}
var oscSets = [
    lineSet(points(oscUpper, -1), '#00008c', 2, 6, {fill: '+1', backgroundColor: '#2f363b', segment: tailSegment('#00008c')}),
    lineSet(points(oscLower, -1), '#b05050', 1, 6, {segment: tailSegment('#b05050')}),
    lineSet(points(oscMid), '#e8e8e8', 1, 3, {borderDash: [2, 2]})
];
oscLevels.forEach(function(v) {
    oscSets.push(lineSet([{x: firstBar, y: v}, {x: lastBar, y: v}], '#00009c', 1.3, 4));
});
zeroRuns.forEach(function(r) {
    oscSets.push(lineSet([{x: r[0], y: 0}, {x: r[1], y: 0}], r[2] == 'r' ? '#e81010' : '#0a0ae0', 2, 4));
});
oscSets.push(lineSet(points(oscDots), 'rgba(0,0,0,0)', 0, 1, {showLine: false, pointRadius: 3.5, pointBorderWidth: 0,
    pointBackgroundColor: oscDotKinds.split('').map(function(k) { return dotColors[k]; })}));

new Chart(document.getElementById('oscChart'), {
    type: 'line',
    data: {datasets: oscSets},
    options: Object.assign({}, baseOptions, {
        scales: {
            x: xScale(true, 26.7),
            y: yScale(-1.516, 1.773, oscTicks, function(v) { return String(v); })
        }
    }),
    plugins: [oscOverlay]
});
</script>
</body>
</html>
